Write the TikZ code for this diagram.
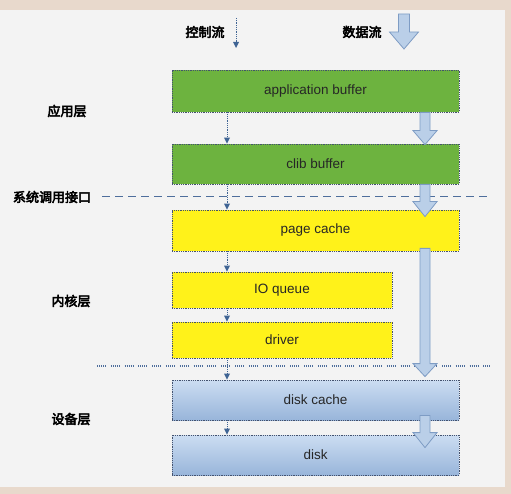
\documentclass[tikz,border=0pt]{standalone}
\usepackage{fontspec}
\setmainfont{Liberation Sans}
\newfontfamily\cjk[FakeBold=4]{Noto Sans CJK SC}
\usetikzlibrary{arrows.meta,calc}
\definecolor{outerbg}{HTML}{E8D9CC}
\definecolor{panel}{HTML}{F3F3F3}
\definecolor{grn}{HTML}{6DB33F}
\definecolor{ylw}{HTML}{FFF21A}
\definecolor{bluetop}{HTML}{CCDDF2}
\definecolor{bluebot}{HTML}{98B5DA}
\definecolor{bord}{HTML}{44526E}
\definecolor{ctrl}{HTML}{3F6494}
\definecolor{darrfill}{HTML}{BACFE8}
\definecolor{darrline}{HTML}{7E9CC4}
\definecolor{sepline}{HTML}{4E6E9C}
\tikzset{
  layerbox/.style={draw=bord, densely dotted, line width=0.8pt, inner sep=0pt,
    font=\fontsize{13.5}{15}\selectfont, text=black!85, anchor=center},
  gbox/.style={layerbox, fill=grn},
  ybox/.style={layerbox, fill=ylw},
  bbox/.style={layerbox, top color=bluetop, bottom color=bluebot},
  lbl/.style={font=\cjk\fontsize{13}{15}\selectfont, text=black, inner sep=0pt},
  carr/.style={draw=ctrl, densely dotted, line width=0.8pt,
    -{Triangle[width=6pt,length=6pt,fill=ctrl,line width=0pt]}},
  darr/.style={draw=darrline, fill=darrfill, line width=0.8pt, line join=miter},
}
\newcommand\blockarr[5]{%
  \draw[darr] ([xshift=-#3pt]#1) -- ([xshift=-#3pt,yshift=#5pt]#2)
    -- ([xshift=-#4pt,yshift=#5pt]#2) -- (#2)
    -- ([xshift=#4pt,yshift=#5pt]#2) -- ([xshift=#3pt,yshift=#5pt]#2)
    -- ([xshift=#3pt]#1) -- cycle;}
\begin{document}
\begin{tikzpicture}[x=1pt,y=-1pt]
\useasboundingbox (0,0) rectangle (511,494);
\fill[outerbg] (0,0) rectangle (511,494);
\fill[panel] (0,10) rectangle (505,487);

% separator lines
\coordinate (sepAl) at (102,197);
\coordinate (sepAr) at (490,197);
\coordinate (sepBl) at (97,366);
\coordinate (sepBr) at (490,366);
\draw[sepline, line width=1pt, dash pattern=on 8pt off 5pt] (sepAl) -- (sepAr);
\draw[sepline, line width=1.1pt, dash pattern=on 0.8pt off 1.2pt on 0.8pt off 1.2pt on 0.8pt off 1.2pt on 0.8pt off 1.2pt on 0.8pt off 5pt] (sepBl) -- (sepBr);

% boxes
\node[gbox, minimum width=287pt, minimum height=42pt] (app) at (315.5,91) {application buffer};
\node[gbox, minimum width=287pt, minimum height=40pt] (clib) at (315.5,164) {clib buffer};
\node[ybox, minimum width=287pt, minimum height=41pt] (pc) at (315.5,230.5) {page cache};
\node[ybox, minimum width=220pt, minimum height=36pt] (ioq) at (282,290) {IO queue};
\node[ybox, minimum width=220pt, minimum height=36pt] (drv) at (282,340) {driver};
\node[bbox, minimum width=287pt, minimum height=40pt] (dc) at (315.5,400) {disk cache};
\node[bbox, minimum width=287pt, minimum height=40pt] (disk) at (315.5,455) {disk};

% labels
\node[lbl] (lctrl) at (205,32) {控制流};
\node[lbl] (ldata) at (362,32) {数据流};
\node[lbl] (lapp) at (67,111) {应用层};
\node[lbl] (lsys) at (52,197) {系统调用接口};
\node[lbl] (lker) at (71,301) {内核层};
\node[lbl] (ldev) at (71,419) {设备层};

% control flow arrows
\coordinate (cx) at (227,0);
\coordinate (cls) at (236,18);
\coordinate (cle) at (236,48);
\draw[carr] (cls) -- (cle);
\draw[carr] (app.south -| cx) -- (clib.north -| cx);
\draw[carr] (clib.south -| cx) -- (pc.north -| cx);
\draw[carr] (pc.south -| cx) -- (ioq.north -| cx);
\draw[carr] (ioq.south -| cx) -- (drv.north -| cx);
\draw[carr] (drv.south -| cx) -- (dc.north -| cx);
\draw[carr] (dc.south -| cx) -- (disk.north -| cx);

% data flow arrows
\coordinate (dx) at (425,0);
\coordinate (dls) at (404,14);
\coordinate (dle) at (404,49);
\blockarr{dls}{dle}{5.5}{14.5}{17}
\coordinate (d1s) at (app.south -| dx);
\coordinate (d1e) at ($(clib.north -| dx)+(0,1)$);
\blockarr{d1s}{d1e}{5}{12}{14}
\coordinate (d2s) at (clib.south -| dx);
\coordinate (d2e) at ($(pc.north -| dx)+(0,7)$);
\blockarr{d2s}{d2e}{5}{12}{15}
\coordinate (d3s) at ($(pc.south -| dx)+(0,-3)$);
\coordinate (d3e) at ($(dc.north -| dx)+(0,-3)$);
\blockarr{d3s}{d3e}{5}{12}{13}
\coordinate (d4s) at ($(dc.south -| dx)+(0,-5)$);
\coordinate (d4e) at ($(disk.north -| dx)+(0,13)$);
\blockarr{d4s}{d4e}{5}{12}{15}
\end{tikzpicture}
\end{document}
